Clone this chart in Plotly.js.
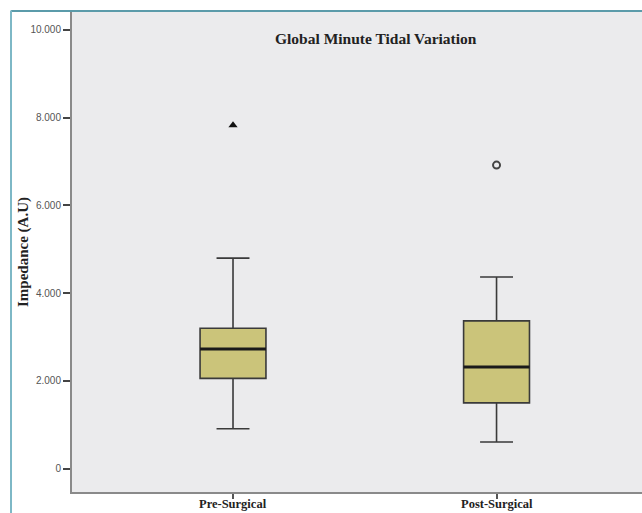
<!DOCTYPE html>
<html>
<head>
<meta charset="utf-8">
<script src="https://cdn.plot.ly/plotly-3.0.1.min.js"></script>
<style>html,body{margin:0;padding:0;background:#fff;}#chart{width:642px;height:513px;}</style>
</head>
<body>
<div id="chart"></div>
<script>
// Data
const groups = ["Pre-Surgical", "Post-Surgical"];
const groupPos = [0, 1];
const lowerWhisker = [910, 610];
const q1 = [2060, 1500];
const median = [2730, 2320];
const q3 = [3200, 3370];
const upperWhisker = [4800, 4370];
const extremeValues = [[7830], []];   // triangle markers
const outlierValues = [[], [6920]];    // open circle markers
const yTicks = [0, 2000, 4000, 6000, 8000, 10000];

const boxWidth = 0.25;
const traces = [];

traces.push({
  type: 'box',
  x: groupPos,
  q1: q1, median: median, q3: q3,
  lowerfence: lowerWhisker, upperfence: upperWhisker,
  width: boxWidth,
  whiskerwidth: 0.5,
  fillcolor: '#CBC47A',
  line: {color: '#3a3a3a', width: 1.6},
  boxpoints: false,
  hoverinfo: 'skip',
  showlegend: false
});

// thick median lines
groupPos.forEach((p, i) => {
  traces.push({
    type: 'scatter', mode: 'lines',
    x: [p - boxWidth / 2, p + boxWidth / 2],
    y: [median[i], median[i]],
    line: {color: '#1a1a1a', width: 3},
    hoverinfo: 'skip', showlegend: false
  });
});

// extremes and outliers
const exX = [], exY = [], oX = [], oY = [];
groupPos.forEach((p, i) => {
  extremeValues[i].forEach(v => { exX.push(p); exY.push(v); });
  outlierValues[i].forEach(v => { oX.push(p); oY.push(v); });
});
traces.push({
  type: 'scatter', mode: 'markers', x: exX, y: exY,
  marker: {symbol: 'triangle-up', size: 8, color: '#111'},
  hoverinfo: 'skip', showlegend: false
});
traces.push({
  type: 'scatter', mode: 'markers', x: oX, y: oY,
  marker: {symbol: 'circle-open', size: 7, color: '#444', line: {width: 2, color: '#444'}},
  hoverinfo: 'skip', showlegend: false
});

// category labels below the x axis (as annotations so they fit in the frame)
const catLabels = groups.map((g, i) => ({
  text: '<b>' + g + '</b>',
  xref: 'x', yref: 'paper', x: groupPos[i], y: -0.0425,
  xanchor: 'center', yanchor: 'bottom', showarrow: false, borderpad: 0,
  font: {family: 'Liberation Serif', size: 12.5, color: '#222'}
}));

const layout = {
  width: 642, height: 513,
  margin: {l: 72, r: 0, t: 12, b: 21, pad: 0},
  paper_bgcolor: '#ffffff',
  plot_bgcolor: '#EBEBED',
  separators: ',.',
  showlegend: false,
  xaxis: {
    range: [-0.611, 1.552],
    tickvals: groupPos, showticklabels: false,
    showgrid: false, zeroline: false,
    showline: true, linecolor: '#8a8a8a', linewidth: 2,
    ticks: 'outside', ticklen: 5, tickwidth: 2, tickcolor: '#555'
  },
  yaxis: {
    range: [-531, 10410],
    tickvals: yTicks,
    tickformat: ',d',
    showgrid: false, zeroline: false,
    showline: true, linecolor: '#8a8a8a', linewidth: 2,
    ticks: 'outside', ticklen: 7, tickwidth: 2, tickcolor: '#444',
    tickfont: {family: 'Liberation Sans', size: 10, color: '#555'}
  },
  annotations: [{
    text: '<b>Global Minute Tidal Variation</b>',
    xref: 'paper', yref: 'paper', x: 0.533, y: 0.944,
    xanchor: 'center', yanchor: 'middle', showarrow: false,
    font: {family: 'Liberation Serif', size: 15.5, color: '#222'}
  }, {
    text: '<b>Impedance (A.U)</b>',
    xref: 'paper', yref: 'paper', x: -0.086, y: 0.5,
    xanchor: 'center', yanchor: 'middle', showarrow: false, textangle: -90,
    font: {family: 'Liberation Serif', size: 15, color: '#222'}
  }].concat(catLabels),
  shapes: [
    {type: 'line', xref: 'paper', yref: 'paper', x0: -0.107, x1: 1.01, y0: 1.002, y1: 1.002,
     line: {color: '#5B9BAA', width: 2}},
    {type: 'line', xref: 'paper', yref: 'paper', x0: -0.107, x1: -0.107, y0: -0.05, y1: 1.003,
     line: {color: '#7DB8C6', width: 2}}
  ]
};

Plotly.newPlot('chart', traces, layout, {staticPlot: true, displayModeBar: false});
</script>
</body>
</html>
